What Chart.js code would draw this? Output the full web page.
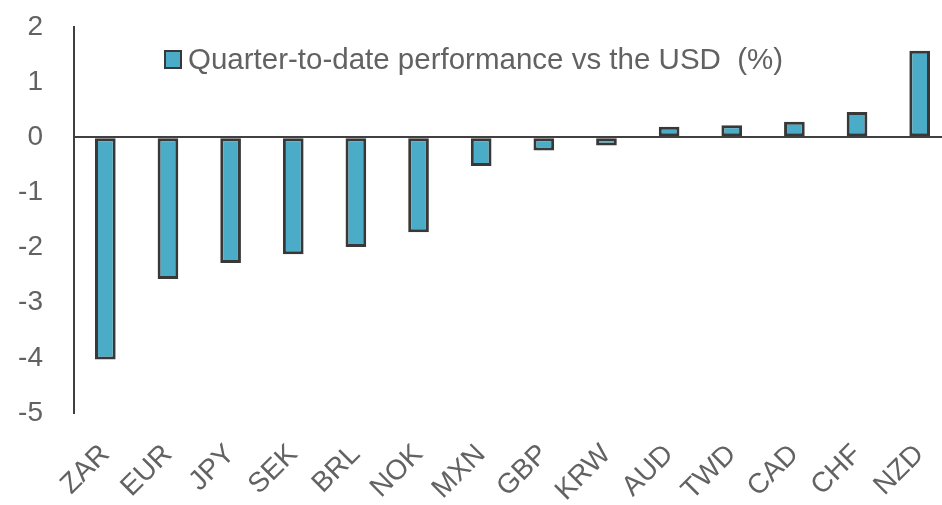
<!DOCTYPE html>
<html>
<head>
<meta charset="utf-8">
<script src="https://cdn.jsdelivr.net/npm/chart.js@4/dist/chart.umd.min.js"></script>
<style>
  html, body { margin: 0; padding: 0; background: #ffffff; overflow: hidden; }
  #wrap { position: relative; width: 951px; height: 505px; }
  #legend {
    position: absolute; left: 164px; top: 42px;
    display: flex; align-items: center; gap: 6px;
    font-family: 'Liberation Sans', Arial, sans-serif; font-size: 29.5px; color: #626262;
    white-space: nowrap;
  }
  #legend .box { width: 14px; height: 15px; border: 2.5px solid #383838; background: #4aacc6; }
</style>
</head>
<body>
<div id="wrap">
  <canvas id="fx-chart"></canvas>
  <div id="legend"></div>
</div>
<script>
// Quarter-to-date FX performance vs USD (%)
const currencies = ['ZAR', 'EUR', 'JPY', 'SEK', 'BRL', 'NOK', 'MXN', 'GBP', 'KRW', 'AUD', 'TWD', 'CAD', 'CHF', 'NZD'];
const qtdPerf = [-4.03, -2.57, -2.28, -2.12, -1.99, -1.72, -0.52, -0.24, -0.15, 0.19, 0.22, 0.28, 0.46, 1.57];
const seriesLabel = 'Quarter-to-date performance vs the USD  (%)';
const yTicks = [2, 1, 0, -1, -2, -3, -4, -5];

const FONT = "'Liberation Sans', Arial, sans-serif";
const TEXT = '#626262';
const AXIS = '#404040';

const fxChart = new Chart(document.getElementById('fx-chart'), {
    type: 'bar',
    data: {
        labels: currencies,
        datasets: [{
            label: seriesLabel,
            data: qtdPerf,
            backgroundColor: '#4aacc6',
            borderColor: '#383838',
            borderWidth: 3,
            borderSkipped: false,
            barPercentage: 0.33,
            categoryPercentage: 1,
        }],
    },
    options: {
        responsive: true,
        maintainAspectRatio: false,
        animation: false,
        layout: { padding: { top: 27, right: 0, bottom: 0, left: 0 } },
        plugins: {
            tooltip: { enabled: false },
            legend: { display: false },
        },
        scales: {
            x: {
                grid: { display: false },
                border: { display: false },
                ticks: {
                    color: TEXT,
                    font: { family: FONT, size: 28 },
                    minRotation: 45,
                    maxRotation: 45,
                    padding: 17,
                    autoSkip: false,
                },
                afterFit: s => { s.height = 92; s.paddingRight = 0; s.paddingLeft = 0; },
            },
            y: {
                min: Math.min(...yTicks),
                max: Math.max(...yTicks),
                afterBuildTicks: s => { s.ticks = yTicks.map(v => ({ value: v })); },
                border: { display: true, color: AXIS, width: 2 },
                grid: {
                    drawTicks: false,
                    color: c => c.tick && c.tick.value === 0 ? AXIS : 'rgba(0,0,0,0)',
                    lineWidth: 2,
                },
                ticks: {
                    color: TEXT,
                    font: { family: FONT, size: 28 },
                    padding: 31,
                    callback: v => String(v),
                },
                afterFit: s => { s.width = 74; s.paddingTop = 0; s.paddingBottom = 0; },
            },
        },
    },
});

// HTML legend built from the dataset
const ds = fxChart.data.datasets[0];
document.getElementById('legend').innerHTML =
    `<span class="box"></span><span>${ds.label.replace(/  /g, ' &nbsp;')}</span>`;
</script>
</body>
</html>
